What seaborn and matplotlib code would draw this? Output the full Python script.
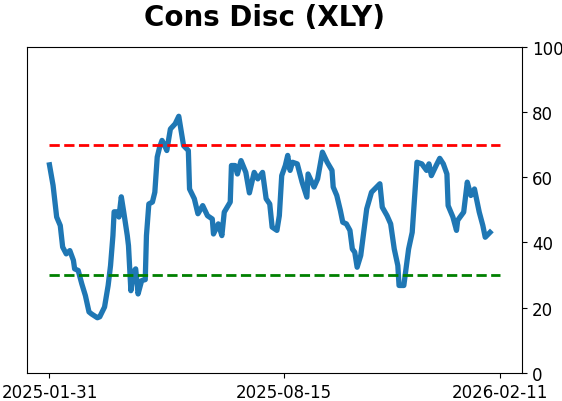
import pandas as pd
import numpy as np
import matplotlib
matplotlib.use("Agg")
import matplotlib.pyplot as plt
import seaborn as sns

# Cons Disc (XLY) indicator
start_date = "2025-01-31"
end_date = "2026-02-11"
mid_date = "2025-08-15"

day_offsets = [0, 3, 6, 9, 11, 14, 17, 20, 21, 24, 27, 30, 33, 35, 40, 42, 46, 49,
               51, 53, 54, 57, 58, 60, 62, 65, 66, 68, 70, 72, 74, 77, 80, 81, 83,
               86, 88, 90, 92, 94, 96, 98, 101, 105, 108, 112, 116, 117, 121, 124,
               128, 132, 136, 137, 141, 144, 146, 151, 152, 155, 157, 160, 164, 167,
               171, 174, 178, 181, 184, 186, 190, 192, 194, 197, 199, 201, 203, 207,
               211, 215, 216, 221, 224, 228, 232, 236, 237, 240, 243, 245, 248, 251,
               253, 255, 257, 260, 265, 269, 276, 278, 282, 285, 288, 291, 292, 296,
               300, 303, 307, 311, 315, 317, 319, 323, 326, 329, 332, 333, 337, 340,
               341, 346, 349, 352, 355, 359, 362, 364, 368]
values = [63.8, 57.5, 47.8, 45.2, 38.6, 36.5, 37.5, 34.5, 31.9, 31.4, 27.3, 23.7,
          18.7, 18.1, 16.9, 17.2, 20.2, 26.8, 32.9, 42.1, 49.4, 49.4, 47.8, 54.0,
          49.4, 42.1, 39.0, 25.2, 30.9, 31.9, 24.2, 28.3, 28.6, 42.1, 51.8, 52.4,
          55.4, 66.2, 69.2, 71.3, 69.9, 68.2, 74.8, 76.4, 78.7, 69.7, 68.2, 56.4,
          53.4, 48.8, 51.3, 48.2, 47.2, 42.6, 45.7, 42.1, 49.3, 52.4, 63.6, 63.6,
          61.0, 65.1, 61.5, 55.2, 61.5, 59.5, 61.5, 53.4, 51.8, 44.7, 43.7, 48.2,
          60.5, 63.6, 66.7, 62.1, 64.6, 64.1, 58.5, 53.9, 61.0, 57.0, 59.5, 67.7,
          64.6, 62.1, 57.0, 54.4, 49.8, 46.2, 45.7, 43.7, 38.0, 37.0, 32.4, 36.0,
          50.3, 55.4, 58.0, 50.8, 48.2, 45.7, 38.0, 32.9, 26.8, 26.8, 38.0, 43.1,
          64.6, 64.1, 62.1, 64.1, 60.5, 63.6, 65.8, 64.1, 61.0, 51.3, 47.8, 43.7,
          46.8, 49.3, 58.5, 54.4, 56.4, 49.3, 45.2, 41.6, 43.1]
upper_level = 70
lower_level = 30

df = pd.DataFrame({
    "date": pd.Timestamp(start_date) + pd.to_timedelta(day_offsets, unit="D"),
    "value": values,
})

fig = plt.figure(figsize=(5.62, 4.02), dpi=100)
ax = fig.add_axes([0.048, 0.07, 0.881, 0.811])

sns.lineplot(data=df, x="date", y="value", ax=ax, color="#1f77b4", linewidth=3.8)

# overbought / oversold reference lines
ax.hlines(upper_level, pd.Timestamp(start_date), pd.Timestamp(end_date),
          colors="red", linestyles="--", linewidth=2)
ax.hlines(lower_level, pd.Timestamp(start_date), pd.Timestamp(end_date),
          colors="green", linestyles="--", linewidth=2)

ax.set_ylim(0, 100)
ax.yaxis.tick_right()
ax.set_xticks(pd.to_datetime([start_date, mid_date, end_date]))
ax.set_xticklabels([start_date, mid_date, end_date])
ax.tick_params(labelsize=12)
ax.set_xlabel("")
ax.set_ylabel("")
ax.set_title("Cons Disc (XLY)", fontsize=20, fontweight="bold", pad=16, x=0.479)

fig.savefig("out.png", dpi=100)
